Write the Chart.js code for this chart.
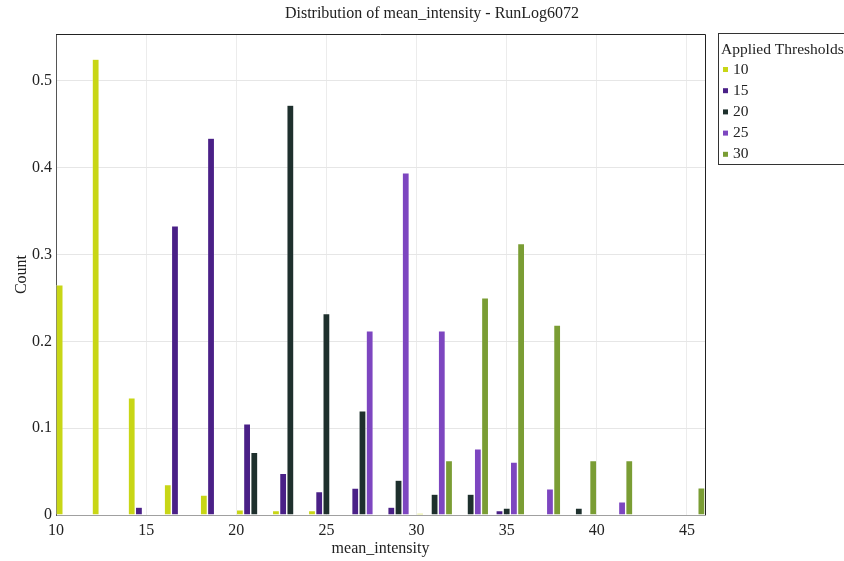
<!DOCTYPE html>
<html>
<head>
<meta charset="utf-8">
<script src="https://cdn.jsdelivr.net/npm/chart.js@4.4.1/dist/chart.umd.min.js"></script>
<style>
  html, body { margin: 0; padding: 0; background: #ffffff; }
  #wrap { width: 844px; height: 561px; position: relative; }
</style>
</head>
<body>
<div id="wrap"><canvas id="chart" width="844" height="561"></canvas></div>
<script>
// Histogram bins of width 2 over mean_intensity, given by their centres
const binCenters = [11, 13, 15, 17, 19, 21, 23, 25, 27, 29, 31, 33, 35, 37, 39, 41, 43, 45];

// Share of runs per bin for each applied threshold
const seriesNames = ['10', '15', '20', '25', '30'];
const t10 = [0.265, 0.525, 0.135, 0.035, 0.023, 0.006, 0.005, 0.005, null, null, 0.002, null, null, null, null, null, null, null];
const t15 = [null, null, 0.009, 0.333, 0.434, 0.105, 0.048, 0.027, 0.031, 0.009, null, null, 0.005, null, null, null, null, null];
const t20 = [null, null, null, null, null, 0.072, 0.472, 0.232, 0.120, 0.040, 0.024, 0.024, 0.008, null, 0.008, null, null, null];
const t25 = [null, null, null, null, null, null, null, null, 0.212, 0.394, 0.212, 0.076, 0.061, 0.030, null, 0.015, null, null];
const t30 = [null, null, null, null, null, null, null, null, null, null, 0.0625, 0.25, 0.3125, 0.21875, 0.0625, 0.0625, null, 0.03125];

const xTickValues = [10, 15, 20, 25, 30, 35, 40, 45];
const yTickValues = [0, 0.1, 0.2, 0.3, 0.4, 0.5];

const colors = ['#c8d616', '#4a2087', '#1e302d', '#7d46c0', '#7a9d34'];
const serif = '"Liberation Serif", "DejaVu Serif", serif';

const seriesValues = [t10, t15, t20, t25, t30];
const datasets = seriesValues.map((vals, k) => ({
  label: seriesNames[k],
  data: binCenters.map((c, i) => ({ x: c, y: vals[i] })),
  backgroundColor: colors[k],
  borderColor: 'rgba(255,255,255,0.45)',
  borderWidth: 0.6,
  borderSkipped: 'bottom',
  barPercentage: 0.97,
  categoryPercentage: 1.0
}));

// Title, plot frame and the legend box on the right
const decorations = {
  id: 'decorations',
  afterDraw(chart) {
    const ctx = chart.ctx;
    const a = chart.chartArea;
    ctx.save();
    // frame: top and right edges
    ctx.strokeStyle = '#222';
    ctx.lineWidth = 1;
    ctx.beginPath();
    ctx.moveTo(a.left, a.top + 0.5);
    ctx.lineTo(a.right + 0.5, a.top + 0.5);
    ctx.lineTo(a.right + 0.5, a.bottom);
    ctx.stroke();

    // chart title
    ctx.fillStyle = '#222';
    ctx.font = '16px ' + serif;
    ctx.textAlign = 'center';
    ctx.textBaseline = 'middle';
    ctx.fillText('Distribution of mean_intensity - RunLog6072', 432, 14);

    // legend
    const lx = 718.5, ly = 33.5;
    ctx.strokeStyle = '#333';
    ctx.strokeRect(lx, ly, 140, 131);
    ctx.textAlign = 'left';
    ctx.font = '15.5px ' + serif;
    ctx.fillText('Applied Thresholds', 721, 50);
    chart.data.datasets.forEach((ds, i) => {
      const y = 69.5 + i * 21.2;
      ctx.fillStyle = ds.backgroundColor;
      ctx.fillRect(723, y - 2.5, 5, 5);
      ctx.fillStyle = '#222';
      ctx.fillText(ds.label, 733, y);
    });
    ctx.restore();
  }
};

new Chart(document.getElementById('chart'), {
  type: 'bar',
  data: { datasets },
  plugins: [decorations],
  options: {
    responsive: false,
    animation: false,
    layout: { padding: { top: 34, right: 139, left: 0, bottom: 0 } },
    plugins: {
      legend: { display: false },
      title: { display: false },
      tooltip: { enabled: false }
    },
    scales: {
      x: {
        type: 'linear',
        min: 10,
        max: 46,
        offset: false,
        grid: { color: '#ececec', lineWidth: 1, drawTicks: false, offset: false },
        border: { display: true, color: '#a0a0a0', width: 1 },
        afterBuildTicks: (scale) => { scale.ticks = xTickValues.map(v => ({ value: v })); },
        afterFit: (scale) => { scale.height = 46; },
        ticks: {
          color: '#222',
          font: { family: serif, size: 16 },
          padding: 6,
          maxRotation: 0,
          autoSkip: false
        },
        title: {
          display: true,
          text: 'mean_intensity',
          color: '#222',
          font: { family: serif, size: 16 },
          padding: { top: 0, bottom: 3 }
        }
      },
      y: {
        type: 'linear',
        min: 0,
        max: 0.554,
        grid: { color: '#e6e6e6', lineWidth: 1, drawTicks: false },
        border: { display: true, color: '#555', width: 1 },
        afterBuildTicks: (scale) => { scale.ticks = yTickValues.map(v => ({ value: v })); },
        afterFit: (scale) => { scale.width = 56; },
        ticks: {
          color: '#222',
          font: { family: serif, size: 16 },
          padding: 4,
          callback: (v) => String(Math.round(v * 10) / 10)
        },
        title: {
          display: true,
          text: 'Count',
          color: '#222',
          font: { family: serif, size: 16 },
          padding: { top: 12, bottom: 0 }
        }
      }
    }
  }
});
</script>
</body>
</html>
